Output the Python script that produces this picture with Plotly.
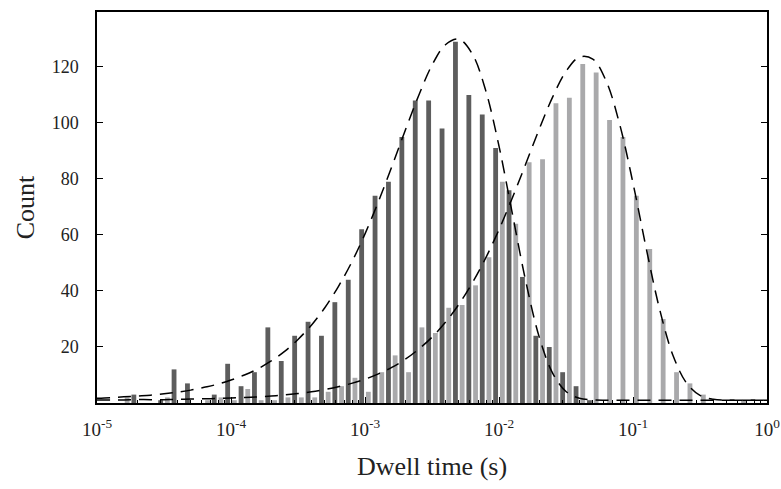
import math
import plotly.graph_objects as go

# Histogram bins: centres in log10(seconds), 10 bins per decade
bin_exp = [-4.9, -4.8, -4.7, -4.6, -4.5, -4.4, -4.3, -4.2, -4.1, -4.0,
           -3.9, -3.8, -3.7, -3.6, -3.5, -3.4, -3.3, -3.2, -3.1, -3.0,
           -2.9, -2.8, -2.7, -2.6, -2.5, -2.4, -2.3, -2.2, -2.1, -2.0,
           -1.9, -1.8, -1.7, -1.6, -1.5, -1.4, -1.3, -1.2, -1.1, -1.0,
           -0.9, -0.8, -0.7, -0.6, -0.5, -0.4, -0.3, -0.2, -0.1]

dark_counts = [0, 0, 3, 0, 1, 12, 7, 0, 3, 14,
               6, 11, 27, 15, 24, 29, 24, 36, 44, 62,
               74, 79, 95, 108, 108, 98, 129, 110, 103, 91,
               76, 45, 24, 20, 11, 6, 1, 0, 0, 0,
               0, 0, 0, 0, 0, 0, 0, 0, 0]

light_counts = [0, 2, 0, 0, 2, 0, 0, 1, 2, 1,
                5, 1, 1, 2, 2, 2, 4, 6, 9, 4,
                11, 17, 11, 27, 25, 34, 35, 42, 52, 79,
                64, 86, 87, 107, 109, 121, 118, 101, 95, 74,
                55, 30, 11, 7, 3, 0, 0, 1, 0]

# Fitted curves (dashed) at 0.1-decade steps
fit_exp = [-5.0, -4.9, -4.8, -4.7, -4.6, -4.5, -4.4, -4.3, -4.2, -4.1,
           -4.0, -3.9, -3.8, -3.7, -3.6, -3.5, -3.4, -3.3, -3.2, -3.1,
           -3.0, -2.9, -2.8, -2.7, -2.6, -2.5, -2.4, -2.3, -2.2, -2.1,
           -2.0, -1.9, -1.8, -1.7, -1.6, -1.5, -1.4, -1.3, -1.2, -1.1,
           -1.0, -0.9, -0.8, -0.7, -0.6, -0.5, -0.4, -0.3, -0.2, -0.1, 0.0]

fit_dark = [1.7, 1.9, 2.2, 2.5, 2.8, 3.3, 3.9, 4.6, 5.6, 6.7,
            8.2, 10.0, 12.2, 15.0, 18.4, 22.7, 27.8, 34.0, 41.5, 50.2,
            60.4, 71.9, 84.4, 97.3, 109.7, 120.6, 127.9, 129.9, 124.7, 111.7,
            91.7, 67.5, 43.4, 23.6, 10.7, 4.1, 1.7, 1.1, 1.0, 1.0,
            1.0, 1.0, 1.0, 1.0, 1.0, 1.0, 1.0, 1.0, 1.0, 1.0, 1.0]

fit_light = [1.1, 1.1, 1.1, 1.2, 1.2, 1.2, 1.3, 1.4, 1.5, 1.6,
             1.8, 2.0, 2.2, 2.5, 2.9, 3.4, 4.0, 4.8, 5.8, 7.0,
             8.5, 10.4, 12.7, 15.6, 19.2, 23.5, 28.8, 35.2, 42.8, 51.7,
             61.9, 73.3, 85.4, 97.8, 109.2, 118.4, 123.5, 122.8, 114.9, 99.6,
             78.5, 54.9, 33.2, 16.8, 7.1, 2.7, 1.3, 1.0, 1.0, 1.0, 1.0]

tick_exp = [-5, -4, -3, -2, -1, 0]
tick_text = ["10<sup>-5</sup>", "10<sup>-4</sup>", "10<sup>-3</sup>",
             "10<sup>-2</sup>", "10<sup>-1</sup>", "10<sup>0</sup>"]
y_ticks = [20, 40, 60, 80, 100, 120]

minor_vals = [n + math.log10(k) for n in range(-5, 0) for k in range(2, 10)]

FONT = "Liberation Serif"
TXT = "#222222"

fig = go.Figure()
fig.add_bar(x=bin_exp, y=dark_counts, marker_color="#5d5d5d",
            marker_line_width=0, name="dark")
fig.add_bar(x=bin_exp, y=light_counts, marker_color="#a9a9ab",
            marker_line_width=0, name="light")
dash_line = dict(color="black", width=1.5, dash="13px,8px", shape="spline")
fig.add_scatter(x=fit_exp, y=fit_dark, mode="lines", line=dash_line,
                name="fit dark")
fig.add_scatter(x=fit_exp, y=fit_light, mode="lines", line=dash_line,
                name="fit light")

fig.update_layout(
    width=781, height=489,
    margin=dict(l=97, r=14, t=12, b=86, autoexpand=False),
    paper_bgcolor="white", plot_bgcolor="white",
    showlegend=False,
    barmode="group", bargap=0, bargroupgap=0.28,
    font=dict(family=FONT, size=18, color=TXT),
)
fig.update_xaxes(
    automargin=False,
    range=[-5, 0], tickmode="array", tickvals=tick_exp, ticktext=tick_text,
    ticks="inside", ticklen=6, tickwidth=1, tickcolor="black",
    showline=True, linecolor="black", linewidth=1.5, mirror=True,
    showgrid=False, zeroline=False,
    minor=dict(tickmode="array", tickvals=minor_vals, ticks="inside",
               ticklen=3, tickwidth=1, tickcolor="black", showgrid=False),
    tickfont=dict(family=FONT, size=19, color=TXT),
    ticklabelstandoff=8,
    title=dict(text="Dwell time (s)", font=dict(family=FONT, size=26, color=TXT),
               standoff=18),
)
fig.update_yaxes(
    automargin=False,
    range=[0, 139.6], tickmode="array", tickvals=y_ticks,
    ticks="inside", ticklen=6, tickwidth=1, tickcolor="black",
    showline=True, linecolor="black", linewidth=1.5, mirror="ticks",
    showgrid=False, zeroline=False,
    tickfont=dict(family=FONT, size=18, color=TXT),
    ticklabelstandoff=13,
    title=dict(text="Count", font=dict(family=FONT, size=26, color=TXT),
               standoff=10),
)

fig.write_html("out.html")
